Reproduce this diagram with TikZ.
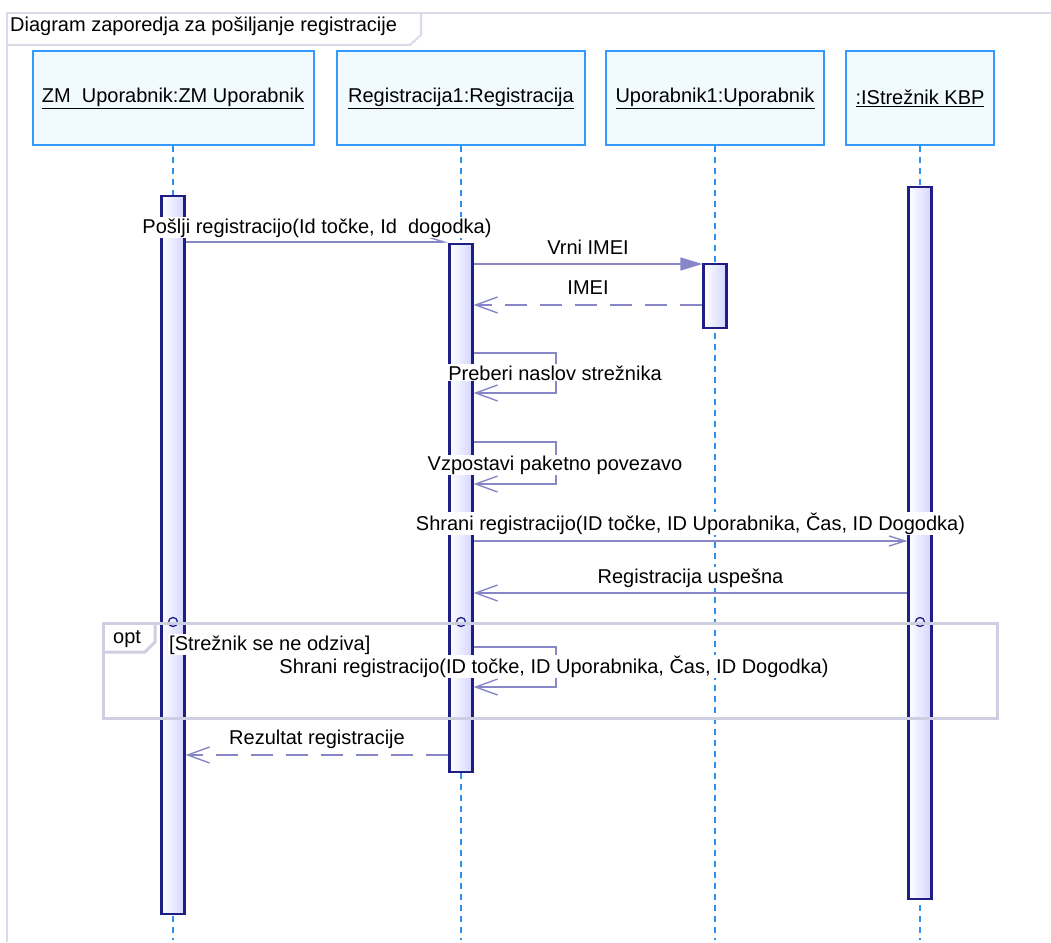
\documentclass[tikz,border=0pt]{standalone}
\usepackage{fontspec}
\setmainfont{Liberation Sans}
\usetikzlibrary{arrows.meta}
\definecolor{lbox}{HTML}{3399FF}
\definecolor{lfill}{HTML}{F1FBFF}
\definecolor{barc}{HTML}{1E1E84}
\definecolor{barfill}{HTML}{D4D4FF}
\definecolor{msgc}{HTML}{8787C8}
\definecolor{frmc}{HTML}{CFCFE2}
\definecolor{titlec}{HTML}{DADAEA}
\definecolor{llc}{HTML}{2E90F0}
\tikzset{
  lifebox/.style={draw=lbox, line width=2pt, fill=lfill, inner sep=0pt},
  actbar/.style={draw=barc, line width=2.2pt, left color=white, right color=barfill, inner sep=0pt, minimum width=23pt, anchor=north},
  lifeline/.style={draw=llc, line width=1.8pt, dash pattern=on 6pt off 5pt},
  msgline/.style={draw=msgc, line width=1.6pt},
  retline/.style={msgline, dash pattern=on 22pt off 13pt},
  openhead/.style={-{Straight Barb[length=22pt,width=16pt,line width=1.4pt]}},
  synchead/.style={-{Straight Barb[left,length=16pt,width=10pt,line width=1.4pt]}},
  smallhead/.style={-{Straight Barb[length=16pt,width=10pt,line width=1.4pt]}},
  fillhead/.style={-{Triangle[length=22pt,width=13pt]}},
  lbl/.style={fill=white, inner sep=1pt, anchor=base},
  framel/.style={draw=titlec, line width=2pt},
  optframe/.style={draw=frmc, line width=3pt},
  gatec/.style={draw=barc, line width=1.3pt},
  every node/.style={font=\fontsize{20}{24}\selectfont, text=black}
}
\begin{document}
\begin{tikzpicture}[x=1pt,y=-1pt]
\useasboundingbox (0,0) rectangle (1051,942);
% outer frame and title
\draw[framel] (7,942) -- (7,13) -- (1051,13);
\draw[framel] (7,45) -- (410,45) -- (421,35) -- (421,13);
\node[anchor=base west, inner sep=0pt] (title) at (10,32) {Diagram zaporedja za pošiljanje registracije};
% lifeline heads
\node[lifebox, minimum width=281pt, minimum height=94pt] (zm) at (173,98) {\underline{ZM\ \ Uporabnik:ZM Uporabnik}};
\node[lifebox, minimum width=248pt, minimum height=94pt] (reg) at (461,98) {\underline{Registracija1:Registracija}};
\node[lifebox, minimum width=218pt, minimum height=94pt] (upo) at (715,98) {\underline{Uporabnik1:Uporabnik}};
\node[lifebox, minimum width=148pt, minimum height=94pt] (str) at (920,98) {\underline{:IStrežnik KBP}};
% lifelines
\coordinate (bot) at (0,940);
\draw[lifeline] (zm.south) -- (zm.south |- bot);
\draw[lifeline] (reg.south) -- (reg.south |- bot);
\draw[lifeline] (upo.south) -- (upo.south |- bot);
\draw[lifeline] (str.south) -- (str.south |- bot);
% activation bars
\node[actbar, minimum height=718pt] (zmA) at (173,195) {};
\node[actbar, minimum height=528pt] (regA) at (461,243) {};
\node[actbar, minimum height=64pt] (upoA) at (715,263) {};
\node[actbar, minimum height=712pt] (strA) at (920,186) {};
% message y levels
\coordinate (m1) at (0,242);
\coordinate (m2) at (0,264);
\coordinate (m3) at (0,305);
\coordinate (m6) at (0,541);
\coordinate (m7) at (0,593);
\coordinate (m10) at (0,755);
% messages
\draw[msgline, synchead] (zmA.east |- m1) -- node[lbl, midway, yshift=9pt] (l1) {Pošlji registracijo(Id točke, Id\ \ dogodka)} (regA.west |- m1);
\draw[msgline, fillhead] (regA.east |- m2) -- node[lbl, midway, yshift=10pt] (l2) {Vrni IMEI} (upoA.west |- m2);
\draw[retline, openhead] (upoA.west |- m3) -- node[lbl, midway, yshift=11pt] (l3) {IMEI} (regA.east |- m3);
% self message 1
\coordinate (s1t) at (556,353);
\coordinate (s1b) at (556,393);
\draw[msgline, openhead] (regA.east |- s1t) -- (s1t) -- (s1b) -- (regA.east |- s1b);
\node[lbl] (l4) at (555,380) {Preberi naslov strežnika};
% self message 2
\coordinate (s2t) at (556,442);
\coordinate (s2b) at (556,484);
\draw[msgline, openhead] (regA.east |- s2t) -- (s2t) -- (s2b) -- (regA.east |- s2b);
\node[lbl] (l5) at (555,470) {Vzpostavi paketno povezavo};
% store registration
\draw[msgline, smallhead] (regA.east |- m6) -- node[lbl, midway, yshift=11pt] (l6) {Shrani registracijo(ID točke, ID Uporabnika, Čas, ID Dogodka)} (strA.west |- m6);
\draw[msgline, openhead] (strA.west |- m7) -- node[lbl, midway, yshift=10pt] (l7) {Registracija uspešna} (regA.east |- m7);
% opt fragment
\draw[gatec] (173,622) circle (4.5pt);
\draw[gatec] (461,622) circle (4.5pt);
\draw[gatec] (920,622) circle (4.5pt);
\draw[optframe] (103,623) rectangle (997,718);
\draw[optframe] (155,623) -- (155,642) -- (145,652) -- (103,652);
\node[anchor=base west, inner sep=0pt] (opt) at (113,643) {opt};
\node[lbl, anchor=base west] (guard) at (168,650) {[Strežnik se ne odziva]};
\coordinate (s3t) at (556,647);
\coordinate (s3b) at (556,687);
\draw[msgline, openhead] (regA.east |- s3t) -- (s3t) -- (s3b) -- (regA.east |- s3b);
\node[lbl] (l9) at (554,673) {Shrani registracijo(ID točke, ID Uporabnika, Čas, ID Dogodka)};
% result
\draw[retline, openhead] (regA.west |- m10) -- node[lbl, midway, yshift=11pt] (l10) {Rezultat registracije} (zmA.east |- m10);
\end{tikzpicture}
\end{document}
